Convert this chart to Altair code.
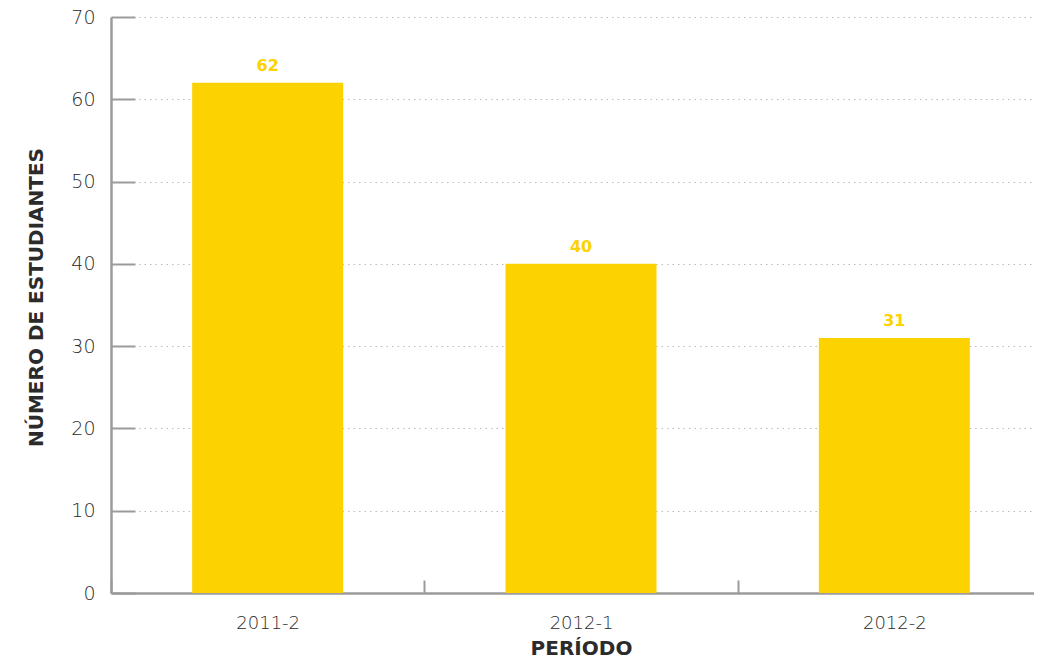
import json
import altair as alt
import pandas as pd

periodos = ["2011-2", "2012-1", "2012-2"]
estudiantes = [62, 40, 31]
y_ticks = [0, 10, 20, 30, 40, 50, 60, 70]
x_ticks = [-0.5, 0.5, 1.5]

df = pd.DataFrame({"periodo": periodos, "n": estudiantes, "idx": list(range(len(periodos)))})

AMARILLO = "#FCD200"
GRIS = "#9b9b9d"
TXT = "#2b2b2b"
FONT = "DejaVu Sans"

W = 923
STEP = 940 / 3
X_MAX = -0.5 + W / STEP

label_expr = json.dumps(periodos) + "[datum.value + 0.5]"

x = alt.X(
    "idx:Q",
    title="PERÍODO",
    scale=alt.Scale(domain=[-0.5, X_MAX], nice=False, zero=False, padding=0),
    axis=alt.Axis(
        values=x_ticks,
        labelExpr=label_expr,
        labelOffset=STEP / 2,
        labelAngle=0,
        grid=False,
        tickSize=alt.ExprRef("-13"),
        tickColor=GRIS,
        tickWidth=2,
        domainColor=GRIS,
        domainWidth=2.5,
        labelFont=FONT,
        labelFontSize=18,
        labelFontWeight=200,
        labelColor=TXT,
        labelPadding=34,
        labelFlush=False,
        labelOverlap=False,
        titleFont=FONT,
        titleFontSize=20,
        titleFontWeight="bold",
        titleColor=TXT,
        titlePadding=6,
        titleX=STEP * 1.5,
    ),
)

y = alt.Y(
    "n:Q",
    title="NÚMERO DE ESTUDIANTES",
    scale=alt.Scale(domain=[0, 70], nice=False),
    axis=alt.Axis(
        values=y_ticks,
        tickSize=alt.ExprRef("-24"),
        tickColor=GRIS,
        tickWidth=2,
        domainColor=GRIS,
        domainWidth=2.5,
        grid=True,
        gridColor="#bdbdbd",
        gridDash=[1.5, 4],
        gridWidth=1,
        labelFont=FONT,
        labelFontSize=19,
        labelFontWeight=200,
        labelColor=TXT,
        labelPadding=40,
        titleFont=FONT,
        titleFontSize=20,
        titleFontWeight="bold",
        titleColor=TXT,
        titlePadding=24,
        titleY=280,
    ),
)

bars = alt.Chart(df).mark_bar(color=AMARILLO, width=151).encode(x=x, y=y)
labels = alt.Chart(df).mark_text(
    dy=-12, baseline="alphabetic", color=AMARILLO, fontWeight="bold", fontSize=16, font=FONT
).encode(x="idx:Q", y="n:Q", text="n:Q")

chart = (
    alt.layer(bars, labels)
    .properties(
        width=W,
        height=576,
        padding={"left": 103, "top": 9, "right": 0, "bottom": 67},
        autosize=alt.AutoSizeParams(type="none"),
        background="white",
    )
    .configure_view(stroke=None)
)

chart.save("out.html", embed_options={"renderer": "svg", "actions": False})
